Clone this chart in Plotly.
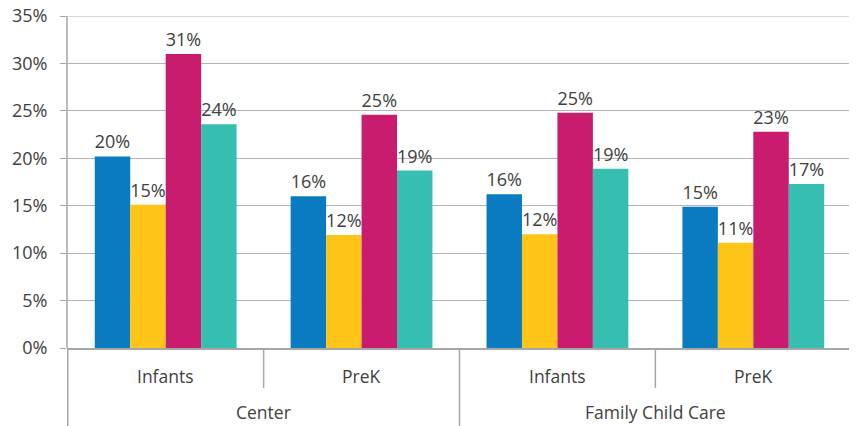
import plotly.graph_objects as go

# ---- data ----
settings = ["Center", "Center", "Family Child Care", "Family Child Care"]
ages = ["Infants", "PreK", "Infants", "PreK"]
categories = [f"{s} {a}" for s, a in zip(settings, ages)]
outer_labels = ["Center", "Family Child Care"]

series_names = ["Series 1", "Series 2", "Series 3", "Series 4"]
series_1 = [20.2, 16.0, 16.2, 14.9]
series_2 = [15.1, 11.9, 12.0, 11.1]
series_3 = [31.0, 24.6, 24.8, 22.8]
series_4 = [23.6, 18.7, 18.9, 17.3]
series_values = [series_1, series_2, series_3, series_4]
colors = ["#0B7BC1", "#FEC418", "#C91C6E", "#36BEB1"]

y_ticks = [0, 5, 10, 15, 20, 25, 30, 35]

FONT = "Open Sans"
TXT = "#404040"
LINE = "#a6a6a6"
GRID = "#b4b4b4"

fig = go.Figure()
for name, vals, col in zip(series_names, series_values, colors):
    fig.add_trace(go.Bar(
        x=categories, y=vals, name=name,
        marker=dict(color=col, line=dict(width=0)),
        text=[f"{round(v):d}%" for v in vals],
        textposition="outside", cliponaxis=False,
        textfont=dict(family=FONT, size=18, color=TXT),
        hoverinfo="skip",
    ))

# the page body adds an 8px offset, so the figure is sized to fill the rest
fig.update_layout(
    width=849, height=418,
    margin=dict(l=59, r=5, t=8, b=78, autoexpand=False),
    paper_bgcolor="white", plot_bgcolor="white",
    barmode="group", bargap=0.276, bargroupgap=0,
    showlegend=False,
    font=dict(family=FONT, size=18, color=TXT),
)
fig.update_xaxes(
    type="category", categoryorder="array", categoryarray=categories,
    showticklabels=False, ticks="", showgrid=False, automargin=False,
    showline=True, linecolor=LINE, linewidth=1.5,
)
fig.update_yaxes(
    range=[0, 35], tickvals=y_ticks, ticktext=[f"{v}%" for v in y_ticks],
    showgrid=True, gridcolor=GRID, gridwidth=1, automargin=False,
    zeroline=False, showline=False,
    ticks="outside", ticklen=6, tickcolor=LINE, tickwidth=1,
    tickfont=dict(family=FONT, size=18, color=TXT),
    ticklabelstandoff=9, ticklabeloverflow="allow",
)

# top gridline (plotly drops the grid line at the very edge of the range)
fig.add_shape(type="line", xref="paper", yref="y", x0=0, x1=1,
              y0=y_ticks[-1], y1=y_ticks[-1], line=dict(color=GRID, width=1),
              layer="below")

# inner category labels
for c, a in zip(categories, ages):
    fig.add_annotation(x=c, y=-0.084, xref="x", yref="paper", text=a,
                       showarrow=False, font=dict(family=FONT, size=17.5, color=TXT),
                       yanchor="middle")
# outer category labels (centred over their two inner categories)
for i, o in enumerate(outer_labels):
    fig.add_annotation(x=2 * i + 0.5, y=-0.232, xref="x", yref="paper", text=o,
                       showarrow=False, font=dict(family=FONT, size=17.5, color=TXT),
                       yanchor="bottom", borderpad=0)

# dividers
for xv in [-0.5, 1.5, 3.5]:
    fig.add_shape(type="line", xref="x", yref="paper", x0=xv, x1=xv,
                  y0=-0.24, y1=0, line=dict(color=LINE, width=1.5))
for xv in [0.5, 2.5]:
    fig.add_shape(type="line", xref="x", yref="paper", x0=xv, x1=xv,
                  y0=-0.12, y1=0, line=dict(color=LINE, width=1.5))
# y axis line
fig.add_shape(type="line", xref="paper", yref="paper", x0=0, x1=0,
              y0=0, y1=1, line=dict(color=LINE, width=1.5))

fig.write_html("out.html")
